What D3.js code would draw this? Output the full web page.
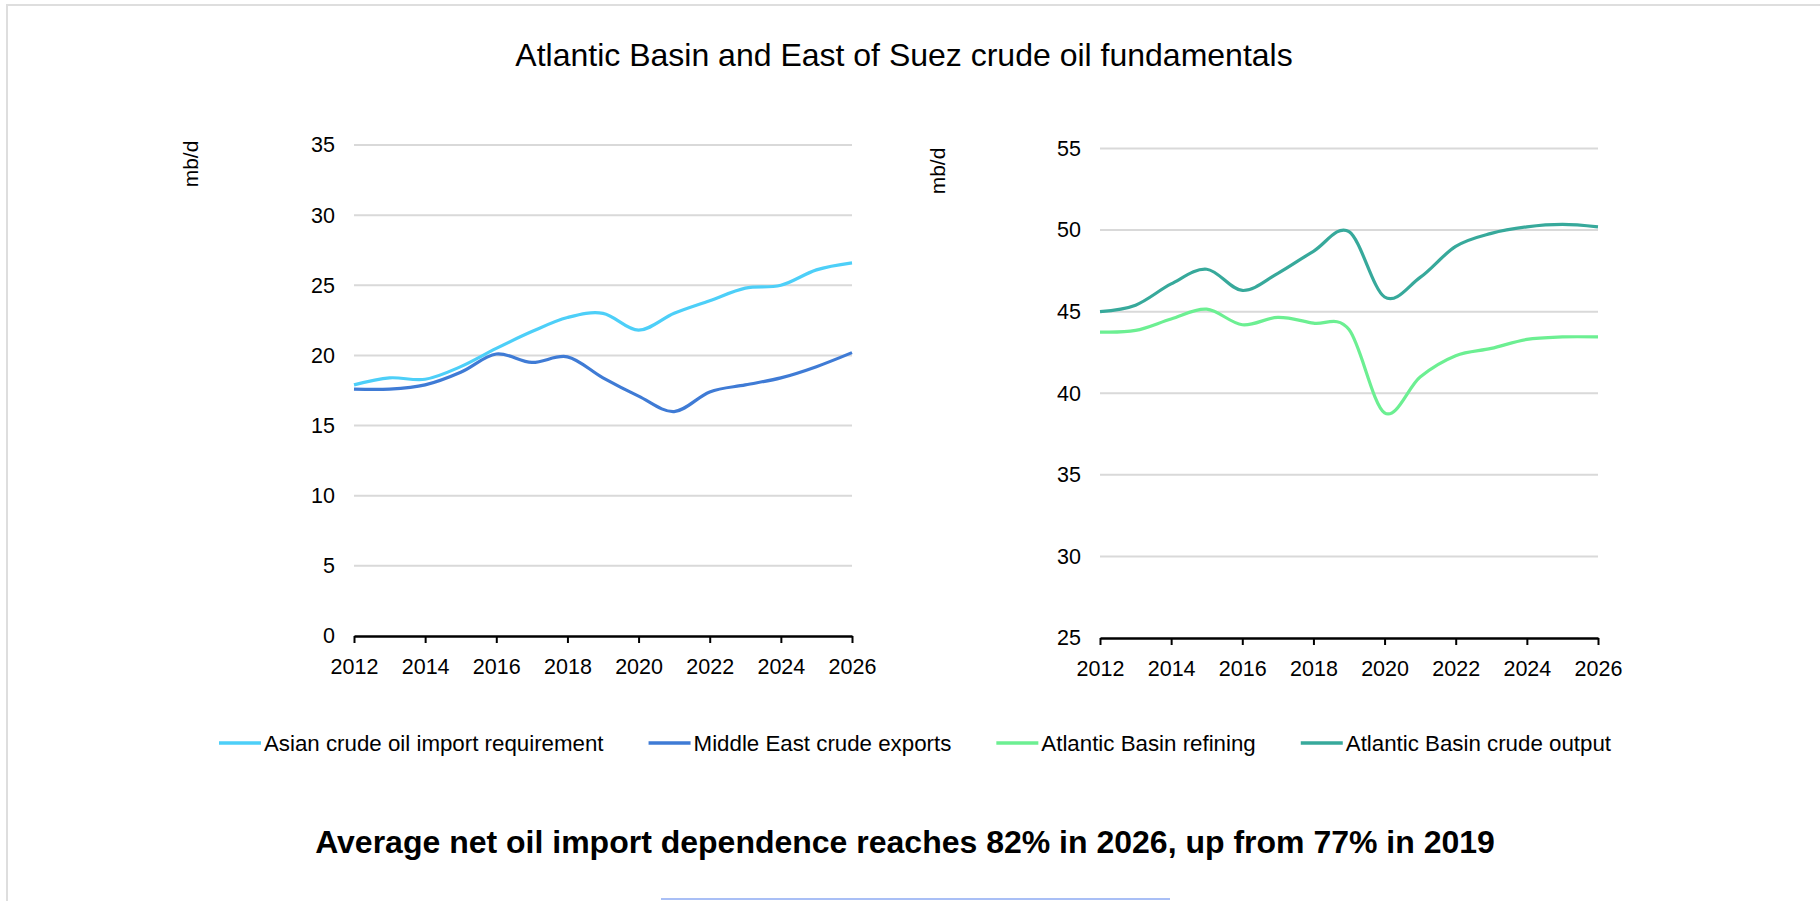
<!DOCTYPE html>
<html>
<head>
<meta charset="utf-8">
<script src="https://cdn.jsdelivr.net/npm/d3@7"></script>
<style>
  body { margin: 0; background: #fff; }
  svg { display: block; font-family: "Liberation Sans", Arial, sans-serif; }
  .grid line { stroke: #d9d9d9; stroke-width: 2; }
  .tick text { fill: #000; }
</style>
</head>
<body>
<div id="chart"></div>
<script>
// years on the x axis
const years = d3.range(2012, 2027);

// left panel: East of Suez (mb/d)
const asianImport = [17.9, 18.4, 18.3, 19.2, 20.5, 21.7, 22.7, 23.0, 21.8, 23.0, 23.9, 24.8, 25.0, 26.1, 26.6];
const middleEastExports = [17.6, 17.6, 17.9, 18.8, 20.1, 19.5, 19.9, 18.4, 17.1, 16.0, 17.4, 17.9, 18.4, 19.2, 20.2];

// right panel: Atlantic Basin (mb/d)
const atlanticRefining = [43.75, 43.85, 44.55, 45.15, 44.2, 44.65, 44.3, 43.9, 38.8, 41.0, 42.3, 42.75, 43.3, 43.45, 43.45];
const atlanticOutput = [45.0, 45.4, 46.7, 47.6, 46.3, 47.35, 48.7, 49.9, 45.9, 47.1, 49.0, 49.8, 50.2, 50.35, 50.2];

const leftTicks = [0, 5, 10, 15, 20, 25, 30, 35];
const rightTicks = [25, 30, 35, 40, 45, 50, 55];
const xTicks = [2012, 2014, 2016, 2018, 2020, 2022, 2024, 2026];

const seriesNames = ["Asian crude oil import requirement", "Middle East crude exports",
  "Atlantic Basin refining", "Atlantic Basin crude output"];
const seriesColors = ["#4dcff8", "#3f7bd5", "#6cef92", "#37a99b"];

const width = 1820, height = 901;

const svg = d3.select("#chart")
  .append("svg")
  .attr("width", width)
  .attr("height", height);

// page frame (light grey top / left edges)
svg.append("rect").attr("x", 6).attr("y", 4).attr("width", width - 6).attr("height", 2).attr("fill", "#dedede");
svg.append("rect").attr("x", 6).attr("y", 4).attr("width", 2).attr("height", height - 4).attr("fill", "#dedede");
// thin blue strip at the very bottom
svg.append("rect").attr("x", 661).attr("y", 898).attr("width", 509).attr("height", 2).attr("fill", "#a9bff6");

// title
svg.append("text")
  .text("Atlantic Basin and East of Suez crude oil fundamentals")
  .attr("x", 904)
  .attr("y", 66)
  .attr("text-anchor", "middle")
  .attr("font-size", 32)
  .attr("fill", "#000");

function drawPanel(opts) {
  const x = d3.scaleLinear().domain([2012, 2026]).range([opts.x0, opts.x1]);
  const y = d3.scaleLinear().domain(opts.domain).range([opts.y0, opts.y1]);

  const g = svg.append("g");

  // gridlines (skip the bottom one, that is the axis)
  g.append("g")
    .attr("class", "grid")
    .selectAll("line")
    .data(opts.ticks.slice(1))
    .join("line")
      .attr("x1", opts.x0)
      .attr("x2", opts.x1)
      .attr("y1", d => y(d))
      .attr("y2", d => y(d));

  // y labels
  const leftAxis = d3.axisLeft(y).tickValues(opts.ticks).tickSize(0).tickPadding(19);
  g.append("g")
    .attr("transform", `translate(${opts.x0}, 0)`)
    .call(leftAxis)
    .call(a => a.select(".domain").remove())
    .selectAll("text")
      .attr("font-size", 21.5)
      .attr("font-family", "Liberation Sans, Arial, sans-serif");

  // x axis
  const bottomAxis = d3.axisBottom(x).tickValues(xTicks).tickFormat(d3.format("d"))
    .tickSizeOuter(0).tickSizeInner(7).tickPadding(16);
  const xa = g.append("g")
    .attr("transform", `translate(0, ${opts.y0})`)
    .call(bottomAxis);
  xa.select(".domain").attr("stroke", "#000").attr("stroke-width", 2.5);
  xa.selectAll(".tick line").attr("stroke", "#000").attr("stroke-width", 2);
  xa.selectAll("text")
    .attr("font-size", 21.5)
    .attr("font-family", "Liberation Sans, Arial, sans-serif");

  // unit label
  g.append("text")
    .text("mb/d")
    .attr("transform", `translate(${opts.unitX}, ${opts.unitY}) rotate(-90)`)
    .attr("text-anchor", "middle")
    .attr("font-size", 21)
    .attr("fill", "#000");

  const line = d3.line()
    .x((d, i) => x(years[i]))
    .y(d => y(d))
    .curve(d3.curveCardinal.tension(0));

  opts.series.forEach(s => {
    g.append("path")
      .datum(s.values)
      .attr("d", line)
      .attr("fill", "none")
      .attr("stroke", s.color)
      .attr("stroke-width", 3.2)
      .attr("stroke-linejoin", "round");
  });
}

drawPanel({
  x0: 354, x1: 852, y0: 636, y1: 145,
  domain: [0, 35], ticks: leftTicks,
  unitX: 198, unitY: 164,
  series: [
    { values: asianImport, color: seriesColors[0] },
    { values: middleEastExports, color: seriesColors[1] }
  ]
});

drawPanel({
  x0: 1100, x1: 1598, y0: 638, y1: 148.5,
  domain: [25, 55], ticks: rightTicks,
  unitX: 945, unitY: 171,
  series: [
    { values: atlanticRefining, color: seriesColors[2] },
    { values: atlanticOutput, color: seriesColors[3] }
  ]
});

// legend, laid out from the measured text widths
const legend = svg.append("g").attr("class", "legend");
let lx = 219;
seriesNames.forEach((name, i) => {
  const item = legend.append("g").attr("transform", `translate(${lx}, 743)`);
  item.append("line")
    .attr("x1", 0).attr("x2", 42)
    .attr("stroke", seriesColors[i])
    .attr("stroke-width", 3.5);
  const t = item.append("text")
    .text(name)
    .attr("x", 45)
    .attr("y", 8)
    .attr("font-size", 22.3)
    .attr("fill", "#000");
  lx += 45 + t.node().getComputedTextLength() + 45;
});

// bottom headline
svg.append("text")
  .text("Average net oil import dependence reaches 82% in 2026, up from 77% in 2019")
  .attr("x", 905)
  .attr("y", 853)
  .attr("text-anchor", "middle")
  .attr("font-size", 32)
  .attr("font-weight", "bold")
  .attr("fill", "#000");
</script>
</body>
</html>
